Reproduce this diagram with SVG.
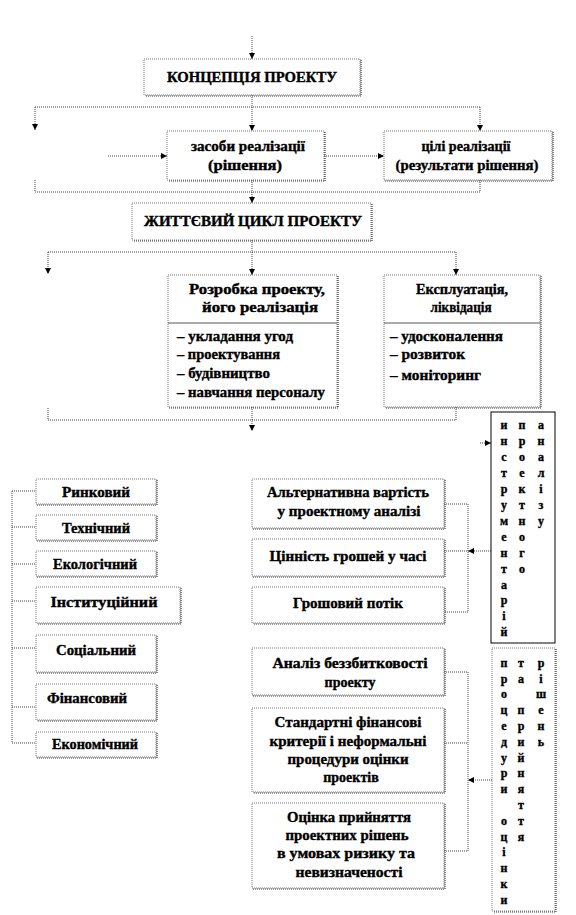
<svg xmlns="http://www.w3.org/2000/svg" width="576" height="915" viewBox="0 0 576 915">
<style>
text{font-family:'Liberation Serif','DejaVu Serif',serif;font-weight:bold;fill:#000;stroke:#000;stroke-width:0.35;}
.t{font-size:14px;text-anchor:middle;}
.l{font-size:14px;text-anchor:start;}
.v{font-size:12px;text-anchor:middle;}
.box{fill:#fff;stroke:#777;stroke-width:1;stroke-dasharray:1 1;}
.sh{fill:none;stroke:#333;stroke-width:1.2;stroke-dasharray:1 1;}
.solid{fill:#fff;stroke:#000;stroke-width:1;}
.c{fill:none;stroke:#444;stroke-width:1;stroke-dasharray:1 1;}
.a{fill:none;stroke:#444;stroke-width:1;stroke-dasharray:1 1;marker-end:url(#ah);}
</style>
<defs>
<marker id="ah" markerUnits="userSpaceOnUse" markerWidth="7" markerHeight="7" refX="6" refY="3" orient="auto">
<path d="M0,0 L6,3 L0,6 z" fill="#000"/>
</marker>
</defs>
<rect width="576" height="915" fill="#fff"/>

<g id="connectors">
<line class="a" x1="252" y1="36" x2="252" y2="59"/>
<line class="c" x1="252" y1="95" x2="252" y2="107"/>
<line class="c" x1="35" y1="107" x2="480" y2="107"/>
<line class="a" x1="35" y1="107" x2="35" y2="130"/>
<line class="a" x1="252" y1="107" x2="252" y2="131"/>
<line class="a" x1="480" y1="107" x2="480" y2="131"/>
<line class="a" x1="108" y1="156" x2="167" y2="156"/>
<line class="a" x1="324" y1="156" x2="384" y2="156"/>
<polyline class="c" points="35,180 35,192 480,192 480,180"/>
<line class="a" x1="252" y1="180" x2="252" y2="203"/>
<line class="c" x1="252" y1="240" x2="252" y2="252"/>
<line class="c" x1="48" y1="252" x2="456" y2="252"/>
<line class="a" x1="48" y1="252" x2="48" y2="274"/>
<line class="a" x1="252" y1="252" x2="252" y2="275"/>
<line class="a" x1="456" y1="252" x2="456" y2="275"/>
<polyline class="c" points="48,408 48,420 456,420 456,407"/>
<line class="a" x1="252" y1="407" x2="252" y2="431"/>
<line class="a" x1="480" y1="443" x2="491" y2="443"/>
<polyline class="c" points="444,504 468,504 468,612 444,612"/>
<line class="c" x1="444" y1="551" x2="468" y2="551"/>
<line class="a" x1="491" y1="551" x2="468" y2="551"/>
<polyline class="c" points="444,672 468,672 468,851 444,851"/>
<line class="c" x1="444" y1="743" x2="468" y2="743"/>
<line class="a" x1="492" y1="780" x2="468" y2="780"/>
<line class="c" x1="12" y1="491" x2="12" y2="743"/>
<line class="c" x1="12" y1="491" x2="36" y2="491"/>
<line class="c" x1="12" y1="527" x2="36" y2="527"/>
<line class="c" x1="12" y1="564" x2="36" y2="564"/>
<line class="c" x1="12" y1="601" x2="36" y2="601"/>
<line class="c" x1="12" y1="648" x2="36" y2="648"/>
<line class="c" x1="12" y1="707" x2="36" y2="707"/>
<line class="c" x1="12" y1="743" x2="36" y2="743"/>
</g>

<g id="concept">
<rect class="box" x="144" y="59" width="216" height="36"/>
<polyline class="sh" points="361,60 361,96 145,96"/>
<text class="t" x="252" y="82" textLength="170" lengthAdjust="spacingAndGlyphs">КОНЦЕПЦІЯ ПРОЕКТУ</text>
</g>

<g id="means">
<rect class="box" x="167" y="131" width="157" height="49"/>
<polyline class="sh" points="325,132 325,181 168,181"/>
<text class="t" x="248" y="151" textLength="114" lengthAdjust="spacingAndGlyphs">засоби реалізації</text>
<text class="t" x="245" y="170" textLength="74" lengthAdjust="spacingAndGlyphs">(рішення)</text>
</g>

<g id="goals">
<rect class="box" x="384" y="131" width="168" height="49"/>
<polyline class="sh" points="553,132 553,181 385,181"/>
<text class="t" x="466" y="151" textLength="89" lengthAdjust="spacingAndGlyphs">цілі реалізації</text>
<text class="t" x="467" y="170" textLength="143" lengthAdjust="spacingAndGlyphs">(результати рішення)</text>
</g>

<g id="lifecycle">
<rect class="box" x="132" y="203" width="239" height="37"/>
<polyline class="sh" points="372,204 372,241 133,241"/>
<text class="t" x="253" y="226" textLength="218" lengthAdjust="spacingAndGlyphs">ЖИТТЄВИЙ  ЦИКЛ ПРОЕКТУ</text>
</g>

<g id="development">
<rect class="box" x="168" y="275" width="169" height="132"/>
<polyline class="sh" points="338,276 338,408 169,408"/>
<line x1="168" y1="323" x2="337" y2="323" stroke="#555" stroke-width="1"/>
<text class="t" x="257" y="294" textLength="136" lengthAdjust="spacingAndGlyphs">Розробка проекту,</text>
<text class="t" x="260" y="312" textLength="116" lengthAdjust="spacingAndGlyphs">його реалізація</text>
<text class="l" x="177" y="341" textLength="116" lengthAdjust="spacingAndGlyphs">– укладання  угод</text>
<text class="l" x="177" y="359" textLength="103" lengthAdjust="spacingAndGlyphs">– проектування</text>
<text class="l" x="177" y="378" textLength="93" lengthAdjust="spacingAndGlyphs">– будівництво</text>
<text class="l" x="177" y="397" textLength="148" lengthAdjust="spacingAndGlyphs">– навчання персоналу</text>
</g>

<g id="operation">
<rect class="box" x="384" y="275" width="156" height="132"/>
<polyline class="sh" points="541,276 541,408 385,408"/>
<line x1="384" y1="323" x2="540" y2="323" stroke="#555" stroke-width="1"/>
<text class="t" x="462" y="294" textLength="92" lengthAdjust="spacingAndGlyphs">Експлуатація,</text>
<text class="t" x="461" y="312" textLength="61" lengthAdjust="spacingAndGlyphs">ліквідація</text>
<text class="l" x="390" y="341" textLength="113" lengthAdjust="spacingAndGlyphs">– удосконалення</text>
<text class="l" x="390" y="359" textLength="75" lengthAdjust="spacingAndGlyphs">– розвиток</text>
<text class="l" x="390" y="380" textLength="91" lengthAdjust="spacingAndGlyphs">– моніторинг</text>
</g>

<g id="market">
<rect class="box" x="36" y="479" width="120" height="25"/>
<polyline class="sh" points="157,480 157,505 37,505"/>
<text class="t" x="96" y="497" textLength="68" lengthAdjust="spacingAndGlyphs">Ринковий</text>
</g>
<g id="technical">
<rect class="box" x="36" y="515" width="120" height="25"/>
<polyline class="sh" points="157,516 157,541 37,541"/>
<text class="t" x="96" y="533" textLength="68" lengthAdjust="spacingAndGlyphs">Технічний</text>
</g>
<g id="ecological">
<rect class="box" x="36" y="551" width="120" height="25"/>
<polyline class="sh" points="157,552 157,577 37,577"/>
<text class="t" x="95" y="569" textLength="84" lengthAdjust="spacingAndGlyphs">Екологічний</text>
</g>
<g id="institutional">
<rect class="box" x="36" y="587" width="144" height="36"/>
<polyline class="sh" points="181,588 181,624 37,624"/>
<text class="t" x="104" y="607" textLength="107" lengthAdjust="spacingAndGlyphs">Інституційний</text>
</g>
<g id="social">
<rect class="box" x="36" y="635" width="120" height="37"/>
<polyline class="sh" points="157,636 157,673 37,673"/>
<text class="t" x="96" y="655" textLength="80" lengthAdjust="spacingAndGlyphs">Соціальний</text>
</g>
<g id="financial">
<rect class="box" x="36" y="684" width="120" height="36"/>
<polyline class="sh" points="157,685 157,721 37,721"/>
<text class="t" x="87" y="703" textLength="80" lengthAdjust="spacingAndGlyphs">Фінансовий</text>
</g>
<g id="economic">
<rect class="box" x="36" y="732" width="120" height="25"/>
<polyline class="sh" points="157,733 157,758 37,758"/>
<text class="t" x="95" y="749" textLength="86" lengthAdjust="spacingAndGlyphs">Економічний</text>
</g>

<g id="alt-cost">
<rect class="box" x="252" y="479" width="192" height="49"/>
<polyline class="sh" points="445,480 445,529 253,529"/>
<text class="t" x="348" y="497" textLength="162" lengthAdjust="spacingAndGlyphs">Альтернативна вартість</text>
<text class="t" x="349" y="516" textLength="143" lengthAdjust="spacingAndGlyphs">у проектному аналізі</text>
</g>
<g id="time-value">
<rect class="box" x="252" y="539" width="192" height="37"/>
<polyline class="sh" points="445,540 445,577 253,577"/>
<text class="t" x="348" y="561" textLength="157" lengthAdjust="spacingAndGlyphs">Цінність  грошей  у часі</text>
</g>
<g id="cash-flow">
<rect class="box" x="252" y="587" width="192" height="36"/>
<polyline class="sh" points="445,588 445,624 253,624"/>
<text class="t" x="348" y="608" textLength="110" lengthAdjust="spacingAndGlyphs">Грошовий потік</text>
</g>

<g id="breakeven">
<rect class="box" x="252" y="648" width="192" height="47"/>
<polyline class="sh" points="445,649 445,696 253,696"/>
<text class="t" x="350" y="668" textLength="155" lengthAdjust="spacingAndGlyphs">Аналіз беззбитковості</text>
<text class="t" x="350" y="687">проекту</text>
</g>
<g id="criteria">
<rect class="box" x="252" y="708" width="192" height="84"/>
<polyline class="sh" points="445,709 445,793 253,793"/>
<text class="t" x="348" y="727" textLength="147" lengthAdjust="spacingAndGlyphs">Стандартні фінансові</text>
<text class="t" x="348" y="746" textLength="157" lengthAdjust="spacingAndGlyphs">критерії і неформальні</text>
<text class="t" x="348" y="764" textLength="121" lengthAdjust="spacingAndGlyphs">процедури оцінки</text>
<text class="t" x="351" y="782">проектів</text>
</g>
<g id="risk">
<rect class="box" x="252" y="803" width="192" height="85"/>
<polyline class="sh" points="445,804 445,889 253,889"/>
<text class="t" x="349" y="822" textLength="124" lengthAdjust="spacingAndGlyphs">Оцінка прийняття</text>
<text class="t" x="347" y="840" textLength="123" lengthAdjust="spacingAndGlyphs">проектних рішень</text>
<text class="t" x="346" y="858" textLength="138" lengthAdjust="spacingAndGlyphs">в умовах ризику та</text>
<text class="t" x="349" y="877" textLength="107" lengthAdjust="spacingAndGlyphs">невизначеності</text>
</g>

<g id="toolkit">
<rect class="solid" x="491" y="412" width="64" height="231"/>
<text class="v"><tspan x="504" y="429">и</tspan><tspan x="504" y="445">н</tspan><tspan x="504" y="461">с</tspan><tspan x="504" y="477">т</tspan><tspan x="504" y="493">р</tspan><tspan x="504" y="509">у</tspan><tspan x="504" y="525">м</tspan><tspan x="504" y="541">е</tspan><tspan x="504" y="557">н</tspan><tspan x="504" y="573">т</tspan><tspan x="504" y="589">а</tspan><tspan x="504" y="604">р</tspan><tspan x="504" y="620">і</tspan><tspan x="504" y="636">й</tspan></text>
<text class="v"><tspan x="522" y="429">п</tspan><tspan x="522" y="445">р</tspan><tspan x="522" y="461">о</tspan><tspan x="522" y="477">е</tspan><tspan x="522" y="493">к</tspan><tspan x="522" y="509">т</tspan><tspan x="522" y="525">н</tspan><tspan x="522" y="541">о</tspan><tspan x="522" y="557">г</tspan><tspan x="522" y="573">о</tspan></text>
<text class="v"><tspan x="541" y="429">а</tspan><tspan x="541" y="445">н</tspan><tspan x="541" y="461">а</tspan><tspan x="541" y="477">л</tspan><tspan x="541" y="493">і</tspan><tspan x="541" y="509">з</tspan><tspan x="541" y="525">у</tspan></text>
</g>

<g id="procedures">
<rect class="box" x="492" y="648" width="63" height="263"/>
<polyline class="sh" points="556,649 556,912 493,912"/>
<text class="v"><tspan x="504" y="667">п</tspan><tspan x="504" y="683">р</tspan><tspan x="504" y="698">о</tspan><tspan x="504" y="714">ц</tspan><tspan x="504" y="730">е</tspan><tspan x="504" y="746">д</tspan><tspan x="504" y="762">у</tspan><tspan x="504" y="777">р</tspan><tspan x="504" y="793">и</tspan><tspan x="504" y="825">о</tspan><tspan x="504" y="841">ц</tspan><tspan x="504" y="856">і</tspan><tspan x="504" y="872">н</tspan><tspan x="504" y="888">к</tspan><tspan x="504" y="904">и</tspan></text>
<text class="v"><tspan x="521" y="667">т</tspan><tspan x="521" y="683">а</tspan><tspan x="521" y="714">п</tspan><tspan x="521" y="730">р</tspan><tspan x="521" y="746">и</tspan><tspan x="521" y="762">й</tspan><tspan x="521" y="777">н</tspan><tspan x="521" y="793">я</tspan><tspan x="521" y="809">т</tspan><tspan x="521" y="825">т</tspan><tspan x="521" y="841">я</tspan></text>
<text class="v"><tspan x="541" y="667">р</tspan><tspan x="541" y="683">і</tspan><tspan x="541" y="698">ш</tspan><tspan x="541" y="714">е</tspan><tspan x="541" y="730">н</tspan><tspan x="541" y="746">ь</tspan></text>
</g>
</svg>
